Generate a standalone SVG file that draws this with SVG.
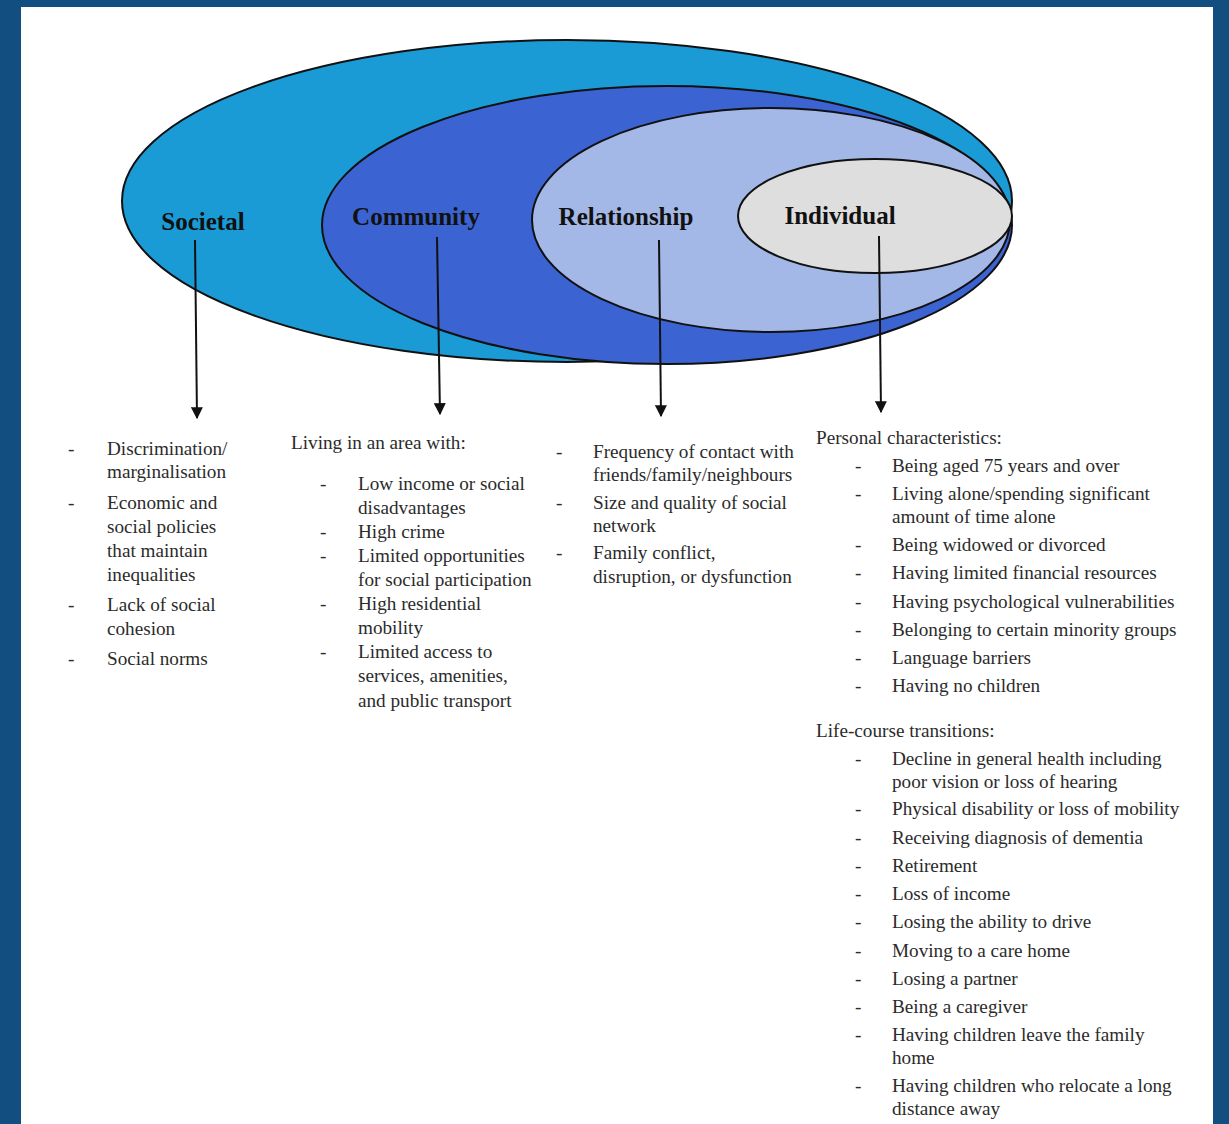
<svg xmlns="http://www.w3.org/2000/svg" width="1229" height="1124" viewBox="0 0 1229 1124">
<defs>
<style>
.t{font-family:"Liberation Serif","Times New Roman",serif;font-size:19.2px;fill:#2b2b2b}
.lbl{font-family:"Liberation Serif","Times New Roman",serif;font-size:25px;font-weight:bold;fill:#111;text-anchor:middle}
.ell{stroke:#111;stroke-width:2}
.con{stroke:#111;stroke-width:2;fill:none}
</style>
<marker id="ah" viewBox="0 0 10 10" refX="9" refY="5" markerWidth="6" markerHeight="6" orient="auto" markerUnits="strokeWidth">
<path d="M0,0 L10,5 L0,10 z" fill="#111"/>
</marker>
</defs>
<rect x="0" y="0" width="1229" height="1124" fill="#124f80"/>
<rect x="21" y="7" width="1192" height="1117" fill="#ffffff"/>

<g id="societal">
<ellipse class="ell" cx="567" cy="201" rx="445" ry="161" fill="#1a9bd6"/>
<text class="lbl" x="203" y="230">Societal</text>
</g>
<g id="community">
<ellipse class="ell" cx="667" cy="225" rx="345" ry="139" fill="#3b64d2"/>
<text class="lbl" x="416" y="225">Community</text>
</g>
<g id="relationship">
<ellipse class="ell" cx="771" cy="220" rx="239" ry="112" fill="#a3b8e6"/>
<text class="lbl" x="626" y="225">Relationship</text>
</g>
<g id="individual">
<ellipse class="ell" cx="875" cy="216" rx="137" ry="57" fill="#dedede"/>
<text class="lbl" x="840" y="224">Individual</text>
</g>

<g id="connectors">
<line class="con" x1="195" y1="240" x2="197" y2="418" marker-end="url(#ah)"/>
<line class="con" x1="437" y1="237" x2="440" y2="414" marker-end="url(#ah)"/>
<line class="con" x1="659" y1="240" x2="661" y2="416" marker-end="url(#ah)"/>
<line class="con" x1="879" y1="236" x2="881" y2="412" marker-end="url(#ah)"/>
</g>

<g id="societal-list" class="t">
<text x="68" y="455">-</text><text x="107" y="455">Discrimination/</text>
<text x="107" y="478">marginalisation</text>
<text x="68" y="509">-</text><text x="107" y="509">Economic and</text>
<text x="107" y="533">social policies</text>
<text x="107" y="557">that maintain</text>
<text x="107" y="581">inequalities</text>
<text x="68" y="611">-</text><text x="107" y="611">Lack of social</text>
<text x="107" y="635">cohesion</text>
<text x="68" y="665">-</text><text x="107" y="665">Social norms</text>
</g>

<g id="community-list" class="t">
<text x="291" y="449">Living in an area with:</text>
<text x="320" y="490">-</text><text x="358" y="490">Low income or social</text>
<text x="358" y="514">disadvantages</text>
<text x="320" y="538">-</text><text x="358" y="538">High crime</text>
<text x="320" y="562">-</text><text x="358" y="562">Limited opportunities</text>
<text x="358" y="586">for social participation</text>
<text x="320" y="610">-</text><text x="358" y="610">High residential</text>
<text x="358" y="634">mobility</text>
<text x="320" y="658">-</text><text x="358" y="658">Limited access to</text>
<text x="358" y="682">services, amenities,</text>
<text x="358" y="707">and public transport</text>
</g>

<g id="relationship-list" class="t">
<text x="556" y="458">-</text><text x="593" y="458">Frequency of contact with</text>
<text x="593" y="481">friends/family/neighbours</text>
<text x="556" y="509">-</text><text x="593" y="509">Size and quality of social</text>
<text x="593" y="532">network</text>
<text x="556" y="559">-</text><text x="593" y="559">Family conflict,</text>
<text x="593" y="583">disruption, or dysfunction</text>
</g>

<g id="individual-list" class="t">
<text x="816" y="444">Personal characteristics:</text>
<text x="855" y="472">-</text><text x="892" y="472">Being aged 75 years and over</text>
<text x="855" y="500">-</text><text x="892" y="500">Living alone/spending significant</text>
<text x="892" y="523">amount of time alone</text>
<text x="855" y="551">-</text><text x="892" y="551">Being widowed or divorced</text>
<text x="855" y="579">-</text><text x="892" y="579">Having limited financial resources</text>
<text x="855" y="608">-</text><text x="892" y="608">Having psychological vulnerabilities</text>
<text x="855" y="636">-</text><text x="892" y="636">Belonging to certain minority groups</text>
<text x="855" y="664">-</text><text x="892" y="664">Language barriers</text>
<text x="855" y="692">-</text><text x="892" y="692">Having no children</text>
<text x="816" y="737">Life-course transitions:</text>
<text x="855" y="765">-</text><text x="892" y="765">Decline in general health including</text>
<text x="892" y="788">poor vision or loss of hearing</text>
<text x="855" y="815">-</text><text x="892" y="815">Physical disability or loss of mobility</text>
<text x="855" y="844">-</text><text x="892" y="844">Receiving diagnosis of dementia</text>
<text x="855" y="872">-</text><text x="892" y="872">Retirement</text>
<text x="855" y="900">-</text><text x="892" y="900">Loss of income</text>
<text x="855" y="928">-</text><text x="892" y="928">Losing the ability to drive</text>
<text x="855" y="957">-</text><text x="892" y="957">Moving to a care home</text>
<text x="855" y="985">-</text><text x="892" y="985">Losing a partner</text>
<text x="855" y="1013">-</text><text x="892" y="1013">Being a caregiver</text>
<text x="855" y="1041">-</text><text x="892" y="1041">Having children leave the family</text>
<text x="892" y="1064">home</text>
<text x="855" y="1092">-</text><text x="892" y="1092">Having children who relocate a long</text>
<text x="892" y="1115">distance away</text>
</g>
</svg>
